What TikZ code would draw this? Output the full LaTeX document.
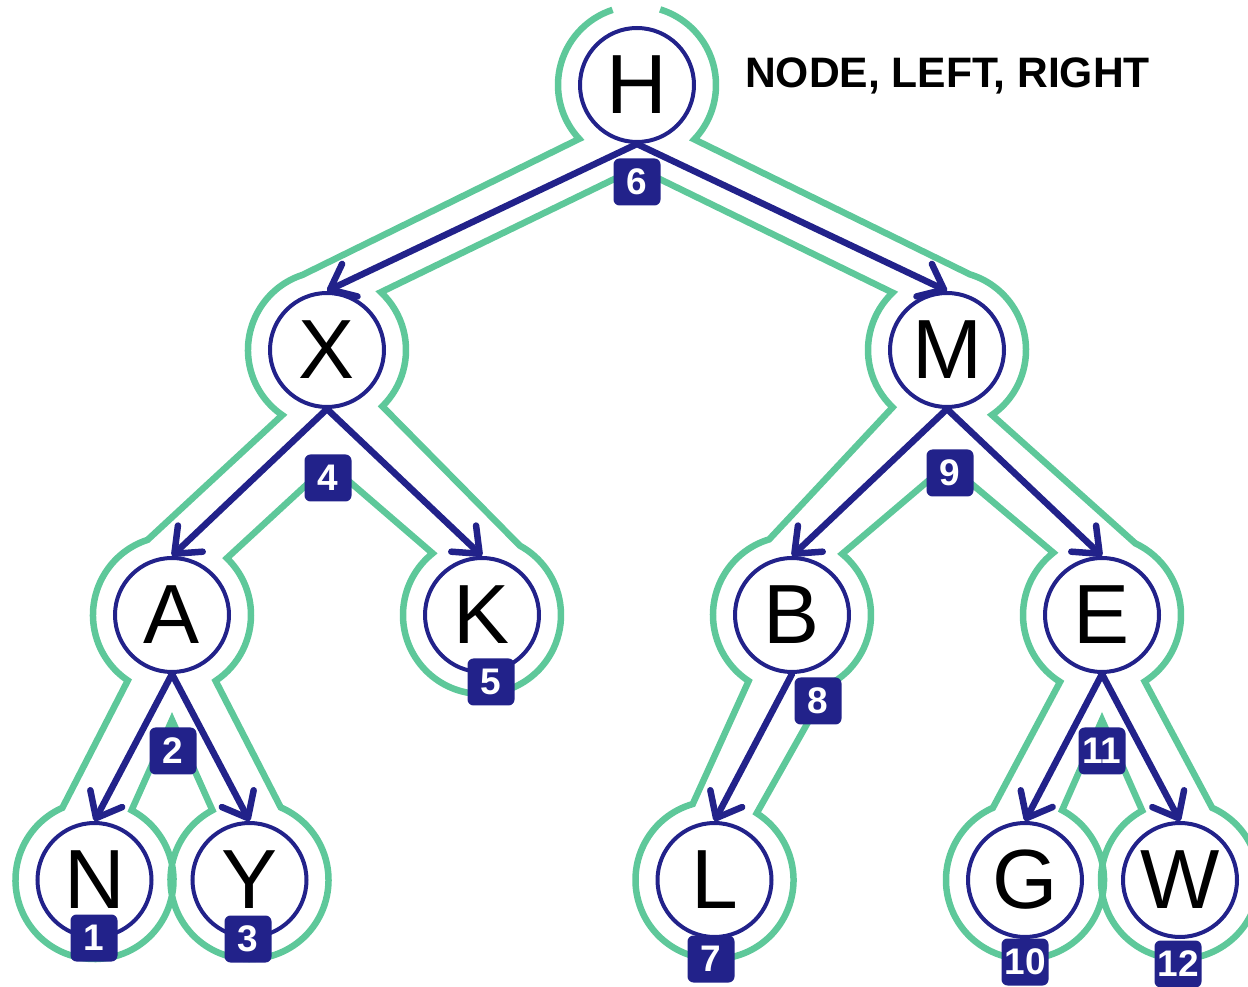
\documentclass[tikz,border=0pt]{standalone}
\usepackage{fontspec}
\setmainfont{Liberation Sans}
\usetikzlibrary{calc,arrows.meta}
\definecolor{treeblue}{RGB}{34,34,138}
\definecolor{tourgreen}{RGB}{94,200,154}
\begin{document}
\begin{tikzpicture}[x=1pt,y=1pt,
  treenode/.style={circle,draw=treeblue,line width=4pt,fill=white,minimum size=114pt,
    inner sep=0pt,font=\fontsize{84}{84}\selectfont},
  link/.style={draw=treeblue,line width=6.5pt,line cap=round,
    -{Straight Barb[length=22pt,width=36pt,line width=6.5pt,line cap=round,line join=round]}},
  tour/.style={draw=tourgreen,line width=6.5pt,line join=miter},
  badge/.style={fill=treeblue,text=white,rounded corners=6pt,minimum width=47pt,
    minimum height=47pt,inner sep=0pt,font=\fontsize{37}{37}\selectfont\bfseries},
  heading/.style={font=\fontsize{42.6}{42.6}\selectfont\bfseries,inner sep=0pt,anchor=base west}]
\clip (0,0) rectangle (1248,986);
\def\R{79pt}

% node centres
\coordinate (cH) at (637,901);
\coordinate (cX) at (327,636);
\coordinate (cM) at (947,636);
\coordinate (cA) at (172,371);
\coordinate (cK) at (482,371);
\coordinate (cB) at (792,371);
\coordinate (cE) at (1102,371);
\coordinate (cN) at (94.5,106);
\coordinate (cY) at (249.5,106);
\coordinate (cL) at (714.5,106);
\coordinate (cG) at (1025,106);
\coordinate (cW) at (1180,106);
% corners of the tour between two children
\coordinate (vH) at (637,818);
\coordinate (vX) at (329,522);
\coordinate (vM) at (948,522);
\coordinate (vA) at (172,266);
\coordinate (vE) at (1102,266);

% the Euler tour around the tree
\draw[tour] ($(cH)+(108:\R)$) arc[start angle=108,end angle=223,radius=\R]
 -- ($(cX)+(108:\R)$) arc[start angle=108,end angle=235.5,radius=\R]
 -- ($(cA)+(108:\R)$) arc[start angle=108,end angle=236,radius=\R]
 -- ($(cN)+(114:\R)$) arc[start angle=114,end angle=422,radius=\R]
 -- (vA)
 -- ($(cY)+(118:\R)$) arc[start angle=118,end angle=426.7,radius=\R]
 -- ($(cA)+(303.5:\R)$) arc[start angle=303.5,end angle=406,radius=\R]
 -- (vX)
 -- ($(cK)+(128.7:\R)$) arc[start angle=128.7,end angle=421.4,radius=\R]
 -- ($(cX)+(314.5:\R)$) arc[start angle=314.5,end angle=407,radius=\R]
 -- (vH)
 -- ($(cM)+(133.5:\R)$) arc[start angle=133.5,end angle=226.5,radius=\R]
 -- ($(cB)+(106.8:\R)$) arc[start angle=106.8,end angle=236.7,radius=\R]
 -- ($(cL)+(106:\R)$) arc[start angle=106,end angle=417.7,radius=\R]
 -- ($(cB)+(298:\R)$) arc[start angle=298,end angle=410.6,radius=\R]
 -- (vM)
 -- ($(cE)+(128:\R)$) arc[start angle=128,end angle=237.9,radius=\R]
 -- ($(cG)+(114:\R)$) arc[start angle=114,end angle=422,radius=\R]
 -- (vE)
 -- ($(cW)+(118.6:\R)$) arc[start angle=118.6,end angle=426,radius=\R]
 -- ($(cE)+(302.7:\R)$) arc[start angle=302.7,end angle=425,radius=\R]
 -- ($(cM)+(304.7:\R)$) arc[start angle=304.7,end angle=433,radius=\R]
 -- ($(cH)+(316.5:\R)$) arc[start angle=316.5,end angle=433,radius=\R];

% tree nodes
\node[treenode] (H) at (cH) {H};
\node[treenode] (X) at (cX) {X};
\node[treenode] (M) at (cM) {M};
\node[treenode] (A) at (cA) {A};
\node[treenode] (K) at (cK) {K};
\node[treenode] (B) at (cB) {B};
\node[treenode] (E) at (cE) {E};
\node[treenode] (N) at (cN) {N};
\node[treenode] (Y) at (cY) {Y};
\node[treenode] (L) at (cL) {L};
\node[treenode] (G) at (cG) {G};
\node[treenode] (W) at (cW) {W};

% child links
\draw[link] (H.south) -- (X.north);
\draw[link] (H.south) -- (M.north);
\draw[link] (X.south) -- (A.north);
\draw[link] (X.south) -- (K.north);
\draw[link] (M.south) -- (B.north);
\draw[link] (M.south) -- (E.north);
\draw[link] (A.south) -- (N.north);
\draw[link] (A.south) -- (Y.north);
\draw[link] (B.south) -- (L.north);
\draw[link] (E.south) -- (G.north);
\draw[link] (E.south) -- (W.north);

% visit order
\node[badge] (b1) at (94,48) {1};
\node[badge] (b2) at (173,235) {2};
\node[badge] (b3) at (248,47) {3};
\node[badge] (b4) at (328,508) {4};
\node[badge] (b5) at (491,304) {5};
\node[badge] (b6) at (637,804) {6};
\node[badge] (b7) at (711,27) {7};
\node[badge] (b8) at (818,285) {8};
\node[badge] (b9) at (950,513) {9};
\node[badge] (b10) at (1025,24) {10};
\node[badge] (b11) at (1102,235) {11};
\node[badge] (b12) at (1178,22) {12};

\node[heading] (title) at (745,898) {NODE, LEFT, RIGHT};
\end{tikzpicture}
\end{document}
